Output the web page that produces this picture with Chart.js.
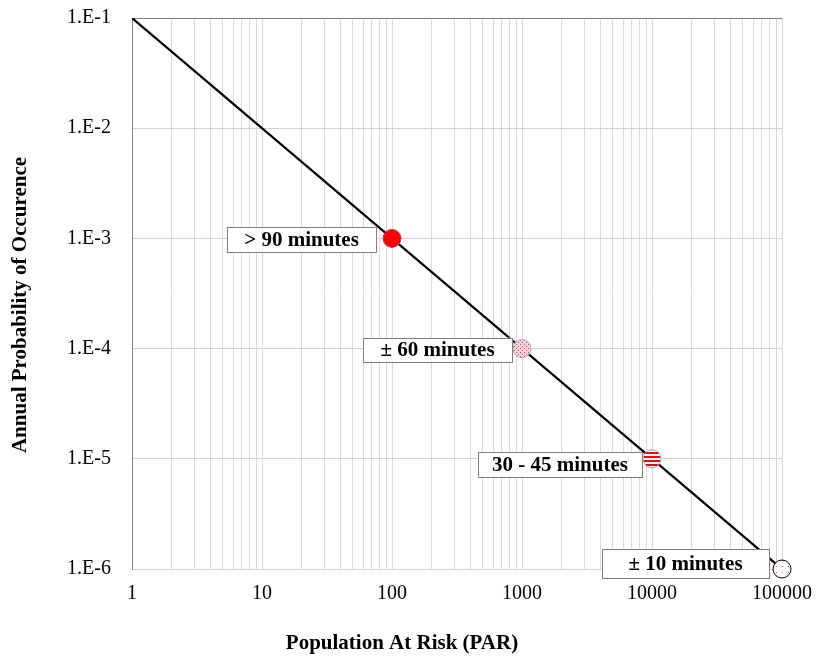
<!DOCTYPE html>
<html>
<head>
<meta charset="utf-8">
<script src="https://cdn.jsdelivr.net/npm/chart.js@4/dist/chart.umd.min.js"></script>
<style>
  html, body { margin: 0; padding: 0; background: #ffffff; }
  #wrap { width: 817px; height: 658px; }
</style>
</head>
<body>
<div id="wrap"><canvas id="c" width="817" height="658"></canvas></div>
<script>
// Warning-time points on the risk criterion line
const parValues = [100, 1000, 10000, 100000];
const probValues = [1e-3, 1e-4, 1e-5, 1e-6];
const warningTimes = ['> 90 minutes', '\u00b1 60 minutes', '30 - 45 minutes', '\u00b1 10 minutes'];

// Criterion line end points
const criterionPar = [1, 100000];
const criterionProb = [1e-1, 1e-6];

// Decade tick labels
const xTickLabels = ['1', '10', '100', '1000', '10000', '100000'];
const yTickLabels = ['1.E-6', '1.E-5', '1.E-4', '1.E-3', '1.E-2', '1.E-1'];

const SERIF = '"Liberation Serif", "Times New Roman", Times, serif';

// Fill patterns for the markers
function makePattern(size, painter) {
  const cv = document.createElement('canvas');
  cv.width = size; cv.height = size;
  const g = cv.getContext('2d');
  painter(g);
  return g.createPattern(cv, 'repeat');
}
const dottedPink = makePattern(4, g => {
  g.fillStyle = '#ffd3da'; g.fillRect(0, 0, 4, 4);
  g.fillStyle = '#f03040'; g.fillRect(0, 0, 1, 1); g.fillRect(2, 2, 1, 1);
});
const redStripes = makePattern(4, g => {
  g.fillStyle = '#ffffff'; g.fillRect(0, 0, 4, 4);
  g.fillStyle = '#ff0000'; g.fillRect(0, 0, 4, 2);
});
const sparseDots = makePattern(6, g => {
  g.fillStyle = '#ffffff'; g.fillRect(0, 0, 6, 6);
  g.fillStyle = '#ff4040'; g.fillRect(2, 2, 1, 1);
});

const markerFills = ['#ff0000', dottedPink, redStripes, sparseDots];
const markerBorders = ['#c04050', '#9aa8d0', '#9aa8d0', '#000000'];

// Callout boxes beside each marker: gap from the marker centre to the box's right edge, vertical shift, size
const calloutLayout = [
  { gap: 16, dy: 1.5, w: 149, h: 25 },
  { gap: 10, dy: 1, w: 149, h: 24 },
  { gap: 10, dy: 5.5, w: 164, h: 25 },
  { gap: 13, dy: -5.5, w: 167, h: 29 }
];

function isDecade(v) {
  const l = Math.log10(v);
  return Math.abs(l - Math.round(l)) < 1e-6;
}

// Log ticks between the axis limits: every 1..9 x 10^k, or decades only
function logTicks(withMinor) {
  return function (scale) {
    const lo = Math.round(Math.log10(scale.min));
    const hi = Math.round(Math.log10(scale.max));
    const ticks = [];
    for (let e = lo; e <= hi; e++) {
      const base = Math.pow(10, e);
      const top = (withMinor && e < hi) ? 9 : 1;
      for (let m = 1; m <= top; m++) ticks.push({ value: m * base, major: m === 1 });
    }
    scale.ticks = ticks;
  };
}

const calloutPlugin = {
  id: 'callouts',
  afterDatasetsDraw(chart) {
    const ctx = chart.ctx;
    const xs = chart.scales.x, ys = chart.scales.y;
    ctx.save();
    ctx.font = 'bold 21px ' + SERIF;
    ctx.textAlign = 'center';
    ctx.textBaseline = 'middle';
    warningTimes.forEach((txt, i) => {
      const px = xs.getPixelForValue(parValues[i]);
      const py = ys.getPixelForValue(probValues[i]);
      const L = calloutLayout[i];
      const right = px - L.gap;
      const left = right - L.w;
      const top = py + L.dy - L.h / 2;
      ctx.fillStyle = '#ffffff';
      ctx.fillRect(left, top, L.w, L.h);
      ctx.strokeStyle = '#808080';
      ctx.lineWidth = 1;
      ctx.strokeRect(Math.round(left) + 0.5, Math.round(top) + 0.5, Math.round(L.w), Math.round(L.h));
      ctx.fillStyle = '#000000';
      ctx.fillText(txt, left + L.w / 2, top + L.h / 2 + 1);
    });
    ctx.restore();
  },
  afterDraw(chart) {
    const ctx = chart.ctx;
    ctx.save();
    ctx.fillStyle = '#000000';
    ctx.font = 'bold 21px ' + SERIF;
    ctx.textAlign = 'center';
    ctx.textBaseline = 'middle';
    ctx.fillText('Population At Risk (PAR)', 402, 644);
    ctx.translate(21, 305);
    ctx.rotate(-Math.PI / 2);
    ctx.fillText('Annual Probability of Occurence', 0, 0);
    ctx.restore();
  }
};

new Chart(document.getElementById('c'), {
  type: 'scatter',
  data: {
    datasets: [
      {
        label: 'Warning time',
        data: parValues.map((x, i) => ({ x, y: probValues[i] })),
        showLine: false,
        clip: false,
        pointRadius: 9,
        pointHoverRadius: 9,
        pointBackgroundColor: markerFills,
        pointBorderColor: markerBorders,
        pointBorderWidth: 1,
        order: 0
      },
      {
        label: 'Criterion',
        data: criterionPar.map((x, i) => ({ x, y: criterionProb[i] })),
        showLine: true,
        borderColor: '#000000',
        borderWidth: 2.2,
        pointRadius: 0,
        pointHoverRadius: 0,
        order: 1
      }
    ]
  },
  options: {
    responsive: false,
    animation: false,
    events: [],
    layout: { padding: { top: 18, right: 35, left: 0, bottom: 0 } },
    plugins: { legend: { display: false }, tooltip: { enabled: false } },
    scales: {
      x: {
        type: 'logarithmic',
        min: 1,
        max: 100000,
        afterBuildTicks: logTicks(true),
        afterFit(scale) { scale.height = 89; },
        grid: { color: '#dadada', lineWidth: 1, drawTicks: true, tickLength: 13, tickColor: 'rgba(0,0,0,0)' },
        border: { color: '#d4d4d4', width: 1 },
        ticks: {
          autoSkip: false,
          maxRotation: 0,
          padding: 0,
          color: '#000000',
          font: { family: SERIF, size: 20 },
          callback(v) {
            if (!isDecade(v)) return '';
            return xTickLabels[Math.round(Math.log10(v))];
          }
        }
      },
      y: {
        type: 'logarithmic',
        min: 1e-6,
        max: 1e-1,
        afterBuildTicks: logTicks(false),
        afterFit(scale) { scale.width = 132; },
        grid: {
          color(c) {
            const v = c.tick && c.tick.value;
            return (v && Math.abs(Math.log10(v) + 1) < 1e-6) ? '#868686' : '#d4d4d4';
          },
          lineWidth: 1,
          drawTicks: true,
          tickLength: 21,
          tickColor: 'rgba(0,0,0,0)'
        },
        border: { color: '#868686', width: 1 },
        ticks: {
          autoSkip: false,
          padding: 0,
          color: '#000000',
          font: { family: SERIF, size: 20 },
          callback(v) {
            if (!isDecade(v)) return '';
            return yTickLabels[Math.round(Math.log10(v)) + 6];
          }
        }
      }
    }
  },
  plugins: [calloutPlugin]
});
</script>
</body>
</html>
